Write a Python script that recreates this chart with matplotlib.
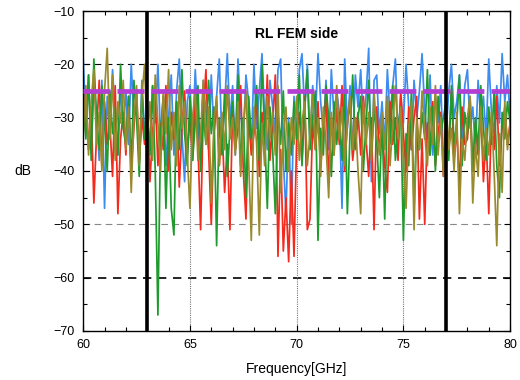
import numpy as np
import matplotlib
matplotlib.use("Agg")
import matplotlib.pyplot as plt
from matplotlib.ticker import MultipleLocator

plt.rcParams['font.family'] = ['Liberation Sans', 'DejaVu Sans']

f_start, f_stop, f_step = 60.0, 80.0, 0.125

blue = [
    -19, -31, -22, -36, -24, -29, -38, -23,
    -47, -26, -33, -21, -30, -37, -24, -32,
    -25, -35, -20, -30, -27, -38, -23, -33,
    -28, -36, -24, -31, -20, -34, -26, -39,
    -30, -22, -37, -25, -19, -33, -42, -27,
    -24, -34, -21, -31, -38, -23, -29, -36,
    -22, -33, -26, -19, -35, -28, -18, -31,
    -24, -37, -19, -29, -34, -22, -27, -36,
    -20, -32, -25, -18, -30, -36, -23, -28,
    -33, -21, -19, -38, -48, -30, -50, -26,
    -34, -21, -18, -29, -20, -35, -24, -31,
    -18, -27, -33, -23, -36, -21, -30, -25,
    -29, -47, -19, -32, -24, -37, -22, -28,
    -21, -31, -26, -17, -42, -23, -22, -33,
    -27, -35, -21, -30, -24, -19, -34, -26,
    -31, -20, -28, -36, -23, -30, -25, -18,
    -29, -34, -22, -37, -26, -31, -24, -38,
    -33, -25, -20, -30, -27, -22, -35, -24,
    -21, -32, -28, -36, -23, -30, -26, -34,
    -19, -29, -33, -24, -31, -18, -27, -22,
    -30,
]

green = [
    -27, -34, -22, -38, -19, -30, -36, -24,
    -31, -40, -25, -33, -28, -37, -20, -32,
    -35, -26, -39, -23, -30, -41, -25, -34,
    -29, -37, -24, -40, -67, -33, -26, -47,
    -30, -47, -52, -27, -36, -21, -33, -39,
    -26, -38, -31, -24, -40, -29, -35, -23,
    -33, -28, -54, -30, -37, -25, -41, -32,
    -27, -36, -22, -39, -30, -45, -26, -34,
    -31, -24, -38, -20, -33, -47, -28, -36,
    -48, -29, -35, -25, -40, -31, -37, -27,
    -34, -22, -39, -28, -21, -36, -30, -25,
    -53, -32, -37, -24, -30, -41, -27, -35,
    -29, -38, -25, -48, -33, -22, -36, -30,
    -26, -40, -31, -23, -37, -28, -34, -45,
    -30, -49, -27, -35, -24, -38, -32, -28,
    -53, -33, -39, -25, -47, -31, -36, -29,
    -34, -21, -37, -28, -40, -26, -33, -30,
    -27, -38, -24, -35, -31, -22, -39, -29,
    -33, -26, -40, -30, -36, -24, -32, -38,
    -28, -35, -25, -39, -45, -29, -34, -27,
    -31,
]

red = [
    -30, -25, -36, -28, -46, -33, -23, -39,
    -27, -35, -31, -41, -24, -48, -34, -29,
    -37, -26, -40, -32, -25, -38, -30, -35,
    -28, -42, -33, -26, -39, -31, -36, -24,
    -40, -29, -34, -27, -43, -32, -25, -37,
    -30, -38, -26, -35, -51, -29, -21, -36,
    -50, -33, -27, -39, -31, -44, -35, -51,
    -28, -36, -32, -24, -40, -49, -30, -37,
    -33, -26, -41, -29, -35, -22, -38, -31,
    -22, -56, -36, -55, -45, -57, -40, -56,
    -34, -29, -38, -26, -51, -49, -31, -36,
    -27, -39, -33, -25, -42, -30, -37, -28,
    -35, -24, -40, -31, -27, -38, -33, -29,
    -37, -26, -34, -41, -30, -51, -28, -36,
    -32, -39, -44, -27, -35, -30, -38, -25,
    -33, -40, -28, -36, -30, -26, -49, -34,
    -50, -31, -37, -27, -39, -33, -29, -41,
    -30, -36, -25, -38, -32, -43, -28, -35,
    -34, -27, -40, -31, -37, -29, -42, -33,
    -48, -30, -36, -26, -39, -32, -28, -35,
    -31,
]

olive = [
    -33, -24, -37, -27, -21, -35, -29, -40,
    -25, -17, -34, -22, -38, -27, -31, -23,
    -36, -28, -44, -30, -24, -39, -26, -20,
    -34, -27, -38, -22, -31, -40, -25, -33,
    -21, -36, -29, -39, -24, -32, -27, -37,
    -47, -30, -25, -38, -33, -23, -35, -28,
    -46, -31, -26, -39, -29, -36, -24, -34,
    -30, -37, -27, -41, -32, -25, -38, -53,
    -28, -35, -52, -31, -39, -26, -34, -29,
    -37, -24, -44, -33, -28, -40, -30, -35,
    -26, -38, -31, -27, -39, -33, -25, -36,
    -30, -41, -28, -35, -45, -29, -37, -24,
    -34, -28, -39, -31, -26, -36, -30, -40,
    -48, -27, -35, -29, -38, -25, -33, -37,
    -29, -36, -26, -39, -31, -24, -34, -28,
    -38, -47, -32, -27, -51, -30, -36, -25,
    -33, -39, -28, -35, -24, -37, -30, -41,
    -27, -36, -32, -40, -29, -48, -34, -38,
    -30, -26, -46, -35, -41, -28, -38, -32,
    -37, -29, -40, -54, -33, -44, -27, -36,
    -31,
]

spec_level = -25
band_edges = [63, 77]
title_text = "RL FEM side"

series = [
    (blue, "#3d8cf0"),
    (red, "#f52a1c"),
    (green, "#1f9a2c"),
    (olive, "#9a8a2e"),
]

fig = plt.figure(figsize=(5.2, 3.8), dpi=100)
ax = fig.add_axes([0.160, 0.129, 0.821, 0.842])

freq = np.arange(len(blue)) * f_step + f_start

# grid lines
for yv in [-20, -30, -40]:
    ax.axhline(yv, color="black", lw=0.8, ls=(0, (6, 4)), zorder=1)
ax.axhline(-50, color="#888888", lw=0.8, ls=(0, (6, 4)), zorder=1)
ax.axhline(-60, color="black", lw=1.2, ls=(0, (5, 4)), zorder=1)
for xv in [65, 70, 75]:
    ax.axvline(xv, color="#777777", lw=0.8, ls=(0, (1, 1)), zorder=1)

for vals, col in series:
    ax.plot(freq, vals, color=col, lw=1.25, zorder=2)

ax.axhline(spec_level, color="#b23fd2", lw=3.4, ls=(0, (5.7, 1.5)), zorder=4)
for xv in band_edges:
    ax.axvline(xv, color="black", lw=2.6, zorder=5)

ax.text(70, -14.3, title_text, ha="center", va="center",
        fontsize=10, fontweight="bold", zorder=6)

ax.set_xlim(60, 80)
ax.set_ylim(-70, -10)
ax.xaxis.set_major_locator(MultipleLocator(5))
ax.xaxis.set_minor_locator(MultipleLocator(1))
ax.yaxis.set_major_locator(MultipleLocator(10))
ax.yaxis.set_minor_locator(MultipleLocator(5))
ax.tick_params(which="both", direction="in", top=True, right=True,
               labelsize=9, pad=6)
ax.tick_params(which="major", length=4, width=0.8)
ax.tick_params(which="minor", length=3, width=0.8)
for s in ax.spines.values():
    s.set_linewidth(1.0)

ax.set_xlabel("Frequency[GHz]", fontsize=10, labelpad=8)
ax.set_ylabel("dB", fontsize=10, rotation=0, labelpad=22, va="center")

fig.savefig("out.png", dpi=100)
